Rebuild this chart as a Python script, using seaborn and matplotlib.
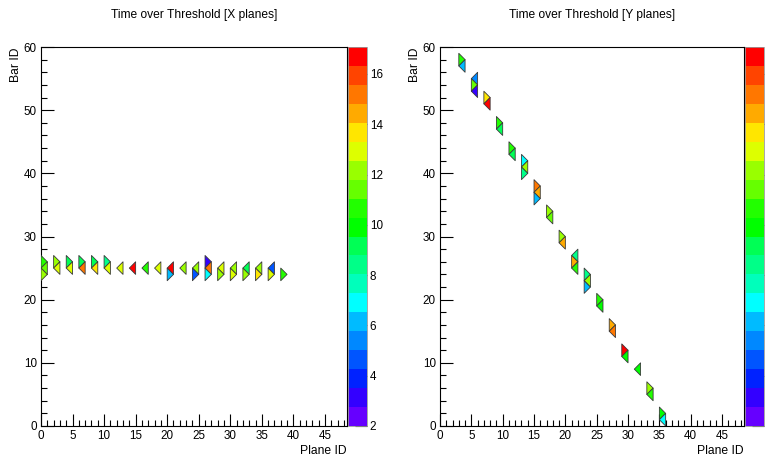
import numpy as np
import pandas as pd
import matplotlib
matplotlib.use("Agg")
import matplotlib.pyplot as plt
import seaborn as sns
from matplotlib.collections import PolyCollection
from matplotlib.colors import ListedColormap, BoundaryNorm
from matplotlib.ticker import MultipleLocator
from matplotlib import font_manager
from matplotlib.cm import ScalarMappable

# ---------------- data ----------------
x_plane = [0, 0, 0, 2, 2, 4, 4, 6, 6, 8, 8, 10, 10, 12, 14, 16, 18, 20, 20, 22,
           24, 24, 26, 26, 26, 28, 28, 30, 30, 32, 32, 34, 34, 36, 36, 38]
x_bar = [26, 25, 24, 26, 25, 26, 25, 26, 25, 26, 25, 26, 25, 25, 25, 25, 25, 25, 24, 25,
         25, 24, 26, 25, 24, 25, 24, 25, 24, 25, 24, 25, 24, 25, 24, 24]
x_tot = [10.6, 11.2, 12.3, 11.8, 12.9, 9.0, 13.3, 8.8, 15.1, 9.3, 13.5, 8.7, 13.2, 13.3,
         16.4, 10.4, 13.0, 16.6, 6.0, 11.8, 12.2, 4.6, 3.2, 15.3, 7.0, 12.8, 12.0,
         12.5, 12.9, 8.9, 12.4, 12.1, 13.4, 4.4, 12.6, 10.7]

y_plane = [3, 3, 5, 5, 5, 7, 7, 9, 9, 11, 11, 13, 13, 13, 15, 15, 15, 17, 17, 19, 19,
           21, 21, 21, 23, 23, 23, 25, 25, 27, 27, 29, 29, 31, 33, 33, 35, 35]
y_bar = [58, 57, 55, 54, 53, 52, 51, 48, 47, 44, 43, 42, 41, 40, 38, 37, 36, 34, 33, 30, 29,
         27, 26, 25, 24, 23, 22, 20, 19, 16, 15, 12, 11, 9, 6, 5, 2, 1]
y_tot = [10.6, 6.2, 5.3, 11.6, 3.2, 13.6, 16.6, 10.7, 9.2, 10.3, 8.8, 7.0, 11.8, 8.5,
         15.0, 14.4, 6.0, 12.3, 11.6, 12.2, 14.6, 8.6, 14.8, 10.3, 8.7, 11.8, 6.0,
         10.6, 10.2, 14.6, 15.4, 16.5, 9.6, 9.8, 12.3, 10.6, 9.8, 7.0]

titles = ["Time over Threshold [X planes]", "Time over Threshold [Y planes]"]
z_min, z_max = 2.0, 17.07
cbar_ticks = [2, 4, 6, 8, 10, 12, 14, 16]

# ---------------- style ----------------
sns.set_theme(style="white")
names = {f.name for f in font_manager.fontManager.ttflist}
narrow = "Liberation Sans Narrow" in names
fam = "Liberation Sans Narrow" if narrow else "Liberation Sans"
plt.rcParams["font.family"] = [fam, "DejaVu Sans"]
plt.rcParams["text.color"] = "black"
plt.rcParams["axes.labelcolor"] = "black"
k = 1.0 if narrow else 0.85
fs_title = 10.2 * k
fs_tick = 9.8 * k
fs_label = 10.3 * k

band_colors = ["#6600ff", "#3300ff", "#0022ff", "#0055ff", "#0088ff", "#00bbff",
               "#00ffff", "#00ffbb", "#00ff88", "#00ff55", "#00ff00", "#22ff00",
               "#66ff00", "#99ff00", "#ddff00", "#ffe600", "#ffaa00", "#ff7700",
               "#ff4400", "#ff0000"]
cmap = ListedColormap(sns.color_palette(band_colors))
norm = BoundaryNorm(np.linspace(z_min, z_max, len(band_colors) + 1), cmap.N)


def triangles(df):
    polys = []
    for p, b in zip(df["plane"], df["bar"]):
        if b % 2 == 0:
            polys.append([(p, b - 1), (p, b + 1), (p + 1, b)])
        else:
            polys.append([(p + 1, b - 1), (p + 1, b + 1), (p, b)])
    return polys


W, H = 765, 459
fig = plt.figure(figsize=(W / 100, H / 100), dpi=100)
fig.patch.set_facecolor("white")

panels = [
    (pd.DataFrame({"plane": x_plane, "bar": x_bar, "tot": x_tot}), 41, 306, 348, True),
    (pd.DataFrame({"plane": y_plane, "bar": y_bar, "tot": y_tot}), 440, 304, 745, False),
]
bottom, height = (H - 426) / H, 379 / H

for (df, x0, w, cx, show_cb_labels), title in zip(panels, titles):
    ax = fig.add_axes([x0 / W, bottom, w / W, height])
    cax = fig.add_axes([cx / W, bottom, 19 / W, height])
    pc = PolyCollection(triangles(df), array=np.asarray(df["tot"], float), cmap=cmap,
                        norm=norm, edgecolors="#3a3a3a", linewidths=0.6, zorder=3)
    ax.add_collection(pc)
    ax.set_xlim(0, 48.5)
    ax.set_ylim(0, 60)
    ax.xaxis.set_major_locator(MultipleLocator(5))
    ax.xaxis.set_minor_locator(MultipleLocator(1))
    ax.yaxis.set_major_locator(MultipleLocator(10))
    ax.yaxis.set_minor_locator(MultipleLocator(2))
    ax.tick_params(which="both", direction="in", top=False, right=False,
                   bottom=True, left=True, colors="black", width=0.8,
                   labelsize=fs_tick, pad=3)
    ax.tick_params(which="major", length=9)
    ax.tick_params(which="minor", length=4.5)
    for s in ax.spines.values():
        s.set_color("black")
        s.set_linewidth(0.8)
    ax.set_xlabel("Plane ID", loc="right", fontsize=fs_label, color="black")
    ax.xaxis.set_label_coords(1.0, -19 / 379, transform=ax.transAxes)
    ax.xaxis.label.set_va("top")
    ax.set_ylabel("Bar ID", loc="top", fontsize=fs_label, color="black")
    ax.yaxis.set_label_coords(-25 / w, 1.0, transform=ax.transAxes)
    ax.yaxis.label.set_va("center")
    ax.set_title(title, fontsize=fs_title, y=1 + 32 / 379, va="center", pad=0,
                 color="black")
    ax.grid(False)

    cb = fig.colorbar(ScalarMappable(norm=norm, cmap=cmap), cax=cax,
                      ticks=cbar_ticks, spacing="proportional")
    cb.outline.set_edgecolor("0.6")
    cb.outline.set_linewidth(0.6)
    cax.tick_params(direction="in", length=9, width=0.8, colors="black",
                    labelsize=fs_tick, pad=2, labelright=show_cb_labels)
    cax.minorticks_off()

fig.savefig("out.png", dpi=100, facecolor="white")
